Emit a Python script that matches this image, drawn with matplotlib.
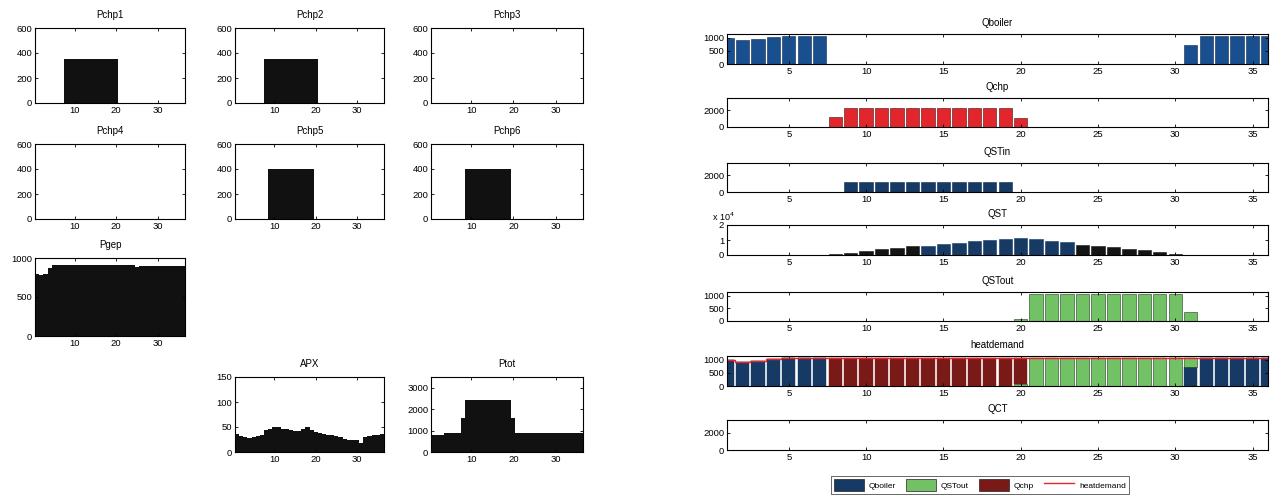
import matplotlib
matplotlib.use("Agg")
import matplotlib.pyplot as plt
from matplotlib.patches import Patch
from matplotlib.lines import Line2D
from matplotlib.ticker import FuncFormatter
import numpy as np

plt.rcParams['font.family'] = ['Liberation Sans', 'DejaVu Sans']
plt.rcParams['font.size'] = 6.5

hours = np.arange(1, 37)
edges = np.arange(0.5, 37.5)

# electrical side
pchp1 = [0]*7 + [350]*13 + [0]*16
pchp2 = [0]*7 + [350]*13 + [0]*16
pchp3 = [0]*36
pchp4 = [0]*36
pchp5 = [0]*8 + [400]*11 + [0]*17
pchp6 = [0]*8 + [400]*11 + [0]*17
pgep = [790, 780, 800, 870] + [910]*20 + [880] + [900]*11
apx = [37, 33, 30, 29, 30, 33, 34, 44, 47, 50, 50, 47, 46, 45, 43, 42, 47, 50,
       44, 40, 39, 36, 35, 34, 33, 30, 27, 25, 25, 24, 18, 31, 33, 34, 35, 37]
ptot = (np.array(pgep) + np.array(pchp1) + np.array(pchp2) + np.array(pchp3)
        + np.array(pchp4) + np.array(pchp5) + np.array(pchp6))

# heat side
qboiler = [1000, 930, 970, 1035, 1085, 1085, 1085] + [0]*23 + [720] + [1085]*5
qchp = [0]*7 + [1200] + [2250]*11 + [1100] + [0]*16
qstin = [0]*7 + [60] + [1150]*11 + [0]*17
qst = [0]*7 + [400, 1600, 2700, 3900, 4900, 5900, 6300, 7100, 8200, 9200,
               10000, 11000, 11400, 10400, 9600, 8600, 6900, 6100,
               5100, 4300, 3100, 2000, 800, 0] + [0]*5
qstout = [0]*19 + [60] + [1090, 1090, 1090, 1065, 1080, 1085, 1090, 1090,
                          1090, 1090, 370] + [0]*5
qct = [0]*36
heatdemand = [1000, 930, 970, 1035, 1085, 1085, 1085, 1070, 1075, 1075, 1075,
              1075, 1080, 1080, 1080, 1080, 1080, 1080, 1080, 1080, 1090, 1090,
              1090, 1065, 1080, 1085, 1090, 1090, 1090, 1090, 1090, 1085, 1085,
              1085, 1085, 1085]
qchp_heat = np.clip(np.array(heatdemand) - np.array(qboiler) - np.array(qstout), 0, None)
qchp_heat[:7] = 0
qchp_heat[30:] = 0

W, H = 1281, 501
fig = plt.figure(figsize=(W / 100, H / 100), dpi=100)


def box(l, t, r, b):
    return [l / W, 1 - b / H, (r - l) / W, (b - t) / H]


def matlab_axes(ax):
    ax.tick_params(direction='in', top=True, right=True, length=2.5,
                   width=0.6, pad=2, labelsize=6.8)
    for s in ax.spines.values():
        s.set_linewidth(0.8)


# left grid of filled step panels
left_panels = [
    ('Pchp1', pchp1, (35, 28, 185, 103), (0, 600), [0, 200, 400, 600]),
    ('Pchp2', pchp2, (235, 28, 384, 103), (0, 600), [0, 200, 400, 600]),
    ('Pchp3', pchp3, (431, 28, 583, 103), (0, 600), [0, 200, 400, 600]),
    ('Pchp4', pchp4, (35, 144, 185, 219), (0, 600), [0, 200, 400, 600]),
    ('Pchp5', pchp5, (235, 144, 384, 219), (0, 600), [0, 200, 400, 600]),
    ('Pchp6', pchp6, (431, 144, 583, 219), (0, 600), [0, 200, 400, 600]),
    ('Pgep', pgep, (35, 258, 185, 336), (0, 1000), [0, 500, 1000]),
    ('APX', apx, (235, 377, 384, 452), (0, 150), [0, 50, 100, 150]),
    ('Ptot', ptot, (431, 377, 583, 452), (0, 3500), [0, 1000, 2000, 3000]),
]
for name, vals, pos, ylim, yt in left_panels:
    ax = fig.add_axes(box(*pos))
    ax.stairs(vals, edges, fill=True, color='#111111', linewidth=0)
    ax.set_xlim(0.5, 36.5)
    ax.set_ylim(*ylim)
    ax.set_xticks([10, 20, 30])
    ax.set_yticks(yt)
    ax.set_title(name, fontsize=7, pad=7)
    matlab_axes(ax)

# right column of hourly heat panels
navy = '#1a4f8f'
dark_navy = '#163a63'
red = '#e3262b'
dark_red = '#7a1a16'
green = '#72c265'
bar_w = 0.86

right_x = (727, 1268)
rows = [(34, 64), (98, 127), (163, 192), (225, 255), (292, 321), (356, 386), (420, 450)]


def right_axes(i, title, ylim, yt):
    t, b = rows[i]
    ax = fig.add_axes(box(right_x[0], t, right_x[1], b))
    ax.set_xlim(1, 36)
    ax.set_ylim(*ylim)
    ax.set_xticks(range(5, 36, 5))
    ax.set_yticks(yt)
    ax.set_title(title, fontsize=7, pad=5.5)
    matlab_axes(ax)
    return ax


ax = right_axes(0, 'Qboiler', (0, 1150), [0, 500, 1000])
ax.bar(hours, qboiler, width=bar_w, color=navy, edgecolor='#0e2a4d', linewidth=0.4)

ax = right_axes(1, 'Qchp', (0, 3500), [0, 2000])
ax.bar(hours, qchp, width=bar_w, color=red, edgecolor='#3a1010', linewidth=0.4)

ax = right_axes(2, 'QSTin', (0, 3500), [0, 2000])
ax.bar(hours, qstin, width=bar_w, color=dark_navy, edgecolor='#0e2a4d', linewidth=0.4)

ax = right_axes(3, 'QST', (0, 20000), [0, 10000, 20000])
qst_colors = ['#141414' if (h <= 13 or h >= 24) else dark_navy for h in hours]
ax.bar(hours, qst, width=bar_w, color=qst_colors, edgecolor=qst_colors, linewidth=0.4)
ax.yaxis.set_major_formatter(FuncFormatter(lambda v, p: '%g' % (v / 1e4)))
ax.text(-0.028, 1.06, r'x 10$^4$', transform=ax.transAxes, ha='left', va='bottom',
        fontsize=6.5)

ax = right_axes(4, 'QSTout', (0, 1150), [0, 500, 1000])
ax.bar(hours, qstout, width=bar_w, color=green, edgecolor='#1c3a1c', linewidth=0.4)

ax = right_axes(5, 'heatdemand', (0, 1150), [0, 500, 1000])
ax.bar(hours, qboiler, width=bar_w, color=dark_navy, edgecolor=dark_navy, linewidth=0.3)
ax.bar(hours, qstout, bottom=qboiler, width=bar_w, color=green, edgecolor='#1c3a1c',
       linewidth=0.4)
ax.bar(hours, qchp_heat, bottom=np.array(qboiler) + np.array(qstout), width=bar_w,
       color=dark_red, edgecolor=dark_red, linewidth=0.3)
ax.step(np.append(hours - 0.5, 36.5), np.append(heatdemand, heatdemand[-1]),
        where='post', color='#e3262b', linewidth=1.0)

ax = right_axes(6, 'QCT', (0, 3500), [0, 2000])
ax.bar(hours, qct, width=bar_w, color=navy, edgecolor='#0e2a4d', linewidth=0.4)

handles = [Patch(facecolor=dark_navy, edgecolor='#222222', linewidth=0.5),
           Patch(facecolor=green, edgecolor='#222222', linewidth=0.5),
           Patch(facecolor=dark_red, edgecolor='#222222', linewidth=0.5),
           Line2D([0], [0], color='#e3262b', linewidth=1.0)]
leg = fig.legend(handles, ['Qboiler', 'QSTout', 'Qchp', 'heatdemand'], ncol=4,
                 loc='center', bbox_to_anchor=(980 / W, 1 - 485 / H), fontsize=6,
                 frameon=True, fancybox=False, handlelength=3.6, handleheight=1.9,
                 columnspacing=1.2, handletextpad=0.6, borderpad=0.35)
leg.get_frame().set_edgecolor('#222222')
leg.get_frame().set_linewidth(0.6)

fig.savefig('out.png', dpi=100, facecolor='white')
